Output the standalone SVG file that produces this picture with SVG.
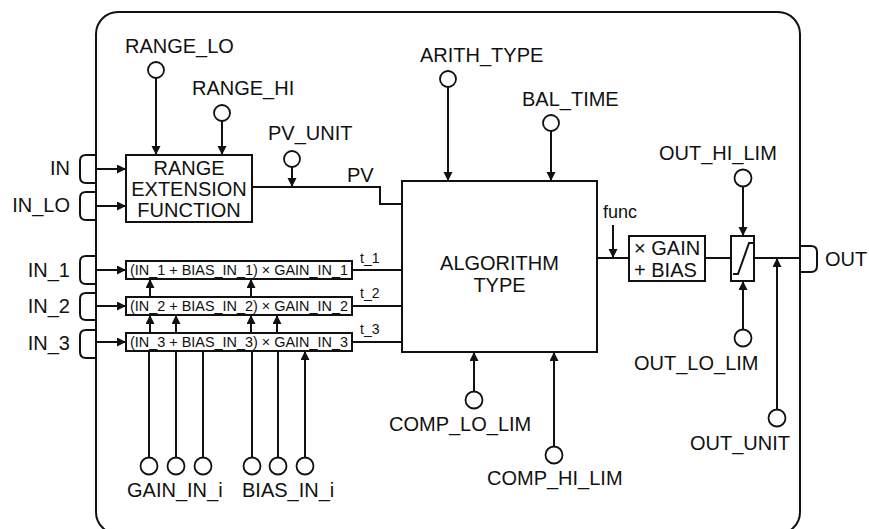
<svg xmlns="http://www.w3.org/2000/svg" width="869" height="529" viewBox="0 0 869 529">
<style>
  text { font-family: "Liberation Sans", Arial, sans-serif; font-size: 20px; fill: #111; }
  .sm { font-size: 14px; }
  .fn { font-size: 18px; }
  .row { font-size: 14px; }
  .mid { text-anchor: middle; }
  .end { text-anchor: end; }
  .box { fill: #fff; stroke: #111; stroke-width: 2; }
  .ln { fill: none; stroke: #111; stroke-width: 2; }
  .arr { fill: none; stroke: #111; stroke-width: 2; marker-end: url(#ah); }
  .pin { fill: #fff; stroke: #111; stroke-width: 1.8; }
</style>
<defs>
  <marker id="ah" markerUnits="userSpaceOnUse" markerWidth="10" markerHeight="10" refX="9" refY="4.5" orient="auto">
    <path d="M0,0 L9,4.5 L0,9 z" fill="#111"/>
  </marker>
</defs>
<rect width="869" height="529" fill="#fff"/>
<g id="frame">
  <rect x="96" y="12" width="704" height="522" rx="22" ry="22" class="ln"/>
</g>

<g id="connectors">
  <line x1="96" y1="169" x2="126" y2="169" class="arr"/>
  <line x1="96" y1="206" x2="126" y2="206" class="arr"/>
  <line x1="96" y1="270" x2="126" y2="270" class="arr"/>
  <line x1="96" y1="306" x2="126" y2="306" class="arr"/>
  <line x1="96" y1="342" x2="126" y2="342" class="arr"/>
  <line x1="156" y1="78" x2="156" y2="155" class="arr"/>
  <line x1="222" y1="121" x2="222" y2="155" class="arr"/>
  <line x1="292" y1="167" x2="292" y2="187" class="arr"/>
  <polyline points="252,187 380,187 380,204 402,204" class="ln"/>
  <line x1="352" y1="270" x2="402" y2="270" class="ln"/>
  <line x1="352" y1="306" x2="402" y2="306" class="ln"/>
  <line x1="352" y1="342" x2="402" y2="342" class="ln"/>
  <line x1="150" y1="297" x2="150" y2="279" class="arr"/>
  <line x1="251" y1="297" x2="251" y2="279" class="arr"/>
  <line x1="150" y1="333" x2="150" y2="315" class="arr"/>
  <line x1="176" y1="333" x2="176" y2="315" class="arr"/>
  <line x1="251" y1="333" x2="251" y2="315" class="arr"/>
  <line x1="277" y1="333" x2="277" y2="315" class="arr"/>
  <line x1="149" y1="457" x2="149" y2="351" class="ln"/>
  <line x1="176" y1="457" x2="176" y2="351" class="ln"/>
  <line x1="203" y1="457" x2="203" y2="351" class="ln"/>
  <line x1="252" y1="457" x2="252" y2="351" class="ln"/>
  <line x1="278" y1="457" x2="278" y2="351" class="ln"/>
  <line x1="305" y1="457" x2="305" y2="351" class="arr"/>
  <line x1="448" y1="87" x2="448" y2="181" class="arr"/>
  <line x1="551" y1="131" x2="551" y2="181" class="arr"/>
  <line x1="474" y1="391" x2="474" y2="352" class="arr"/>
  <line x1="554" y1="446" x2="554" y2="352" class="arr"/>
  <line x1="597" y1="258" x2="629" y2="258" class="ln"/>
  <line x1="613" y1="225" x2="613" y2="258" class="arr"/>
  <line x1="705" y1="258" x2="731" y2="258" class="ln"/>
  <line x1="743" y1="187" x2="743" y2="236" class="arr"/>
  <line x1="743" y1="329" x2="743" y2="281" class="arr"/>
  <line x1="754" y1="258" x2="800" y2="258" class="ln"/>
  <line x1="777" y1="409" x2="777" y2="258" class="arr"/>
  <path d="M96,155 H86 Q80,155 80,161 V177 Q80,183 86,183 H96" class="ln"/>
  <path d="M96,192 H86 Q80,192 80,198 V214 Q80,220 86,220 H96" class="ln"/>
  <path d="M96,256 H86 Q80,256 80,262 V278 Q80,284 86,284 H96" class="ln"/>
  <path d="M96,293 H86 Q80,293 80,299 V314 Q80,320 86,320 H96" class="ln"/>
  <path d="M96,330 H86 Q80,330 80,336 V352 Q80,358 86,358 H96" class="ln"/>
  <path d="M800,246 H811 Q817,246 817,252 V266 Q817,272 811,272 H800" class="ln"/>
</g>

<g id="IN"><text x="70" y="175" class="end">IN</text></g>
<g id="IN_LO"><text x="70" y="212" class="end">IN_LO</text></g>
<g id="IN_1"><text x="70" y="277" class="end">IN_1</text></g>
<g id="IN_2"><text x="70" y="313" class="end">IN_2</text></g>
<g id="IN_3"><text x="70" y="350" class="end">IN_3</text></g>

<g id="range-ext">
  <rect x="126" y="155" width="126" height="67" class="box"/>
  <text x="189" y="175" class="mid">RANGE</text>
  <text x="189" y="196" class="mid">EXTENSION</text>
  <text x="189" y="217" class="mid">FUNCTION</text>
</g>

<g id="RANGE_LO">
  <circle cx="156" cy="70" r="8" class="pin"/>
  <text x="125" y="53">RANGE_LO</text>
</g>
<g id="RANGE_HI">
  <circle cx="222" cy="113" r="8" class="pin"/>
  <text x="192" y="95">RANGE_HI</text>
</g>
<g id="PV_UNIT">
  <circle cx="292" cy="159" r="8" class="pin"/>
  <text x="268" y="140">PV_UNIT</text>
</g>
<g id="PV"><text x="347" y="182">PV</text></g>

<g id="row1">
  <rect x="126" y="261" width="226" height="18" class="box"/>
  <text x="130" y="274.5" class="row" textLength="218" lengthAdjust="spacingAndGlyphs">(IN_1 + BIAS_IN_1) × GAIN_IN_1</text>
</g>
<g id="row2">
  <rect x="126" y="297" width="226" height="18" class="box"/>
  <text x="130" y="310.5" class="row" textLength="218" lengthAdjust="spacingAndGlyphs">(IN_2 + BIAS_IN_2) × GAIN_IN_2</text>
</g>
<g id="row3">
  <rect x="126" y="333" width="226" height="18" class="box"/>
  <text x="130" y="346.5" class="row" textLength="218" lengthAdjust="spacingAndGlyphs">(IN_3 + BIAS_IN_3) × GAIN_IN_3</text>
</g>

<g id="t_labels">
  <text x="360" y="263" class="sm">t_1</text>
  <text x="360" y="298" class="sm">t_2</text>
  <text x="360" y="334" class="sm">t_3</text>
</g>

<g id="GAIN_IN_i">
  <circle cx="149" cy="466" r="8.5" class="pin"/>
  <circle cx="176" cy="466" r="8.5" class="pin"/>
  <circle cx="203" cy="466" r="8.5" class="pin"/>
  <text x="127" y="497">GAIN_IN_i</text>
</g>
<g id="BIAS_IN_i">
  <circle cx="252" cy="466" r="8.5" class="pin"/>
  <circle cx="278" cy="466" r="8.5" class="pin"/>
  <circle cx="305" cy="466" r="8.5" class="pin"/>
  <text x="242" y="497">BIAS_IN_i</text>
</g>

<g id="algorithm">
  <rect x="402" y="181" width="195" height="171" class="box"/>
  <text x="499.5" y="270" class="mid">ALGORITHM</text>
  <text x="499.5" y="292" class="mid">TYPE</text>
</g>
<g id="ARITH_TYPE">
  <circle cx="448" cy="79" r="8" class="pin"/>
  <text x="420" y="62">ARITH_TYPE</text>
</g>
<g id="BAL_TIME">
  <circle cx="551" cy="123" r="8" class="pin"/>
  <text x="522" y="106">BAL_TIME</text>
</g>
<g id="COMP_LO_LIM">
  <circle cx="474" cy="400" r="8.5" class="pin"/>
  <text x="389" y="431">COMP_LO_LIM</text>
</g>
<g id="COMP_HI_LIM">
  <circle cx="554" cy="455" r="8.5" class="pin"/>
  <text x="487" y="485">COMP_HI_LIM</text>
</g>
<g id="func"><text x="603" y="218" class="fn">func</text></g>

<g id="gain-bias">
  <rect x="629" y="236" width="76" height="45" class="box"/>
  <text x="634" y="255">× GAIN</text>
  <text x="634" y="277">+ BIAS</text>
</g>
<g id="limiter">
  <rect x="731" y="236" width="23" height="45" class="box"/>
  <polyline points="733,274 738,274 749,243 753,243" class="ln"/>
</g>
<g id="OUT_HI_LIM">
  <circle cx="743" cy="178" r="8.5" class="pin"/>
  <text x="659" y="160">OUT_HI_LIM</text>
</g>
<g id="OUT_LO_LIM">
  <circle cx="743" cy="338" r="8.5" class="pin"/>
  <text x="634" y="370">OUT_LO_LIM</text>
</g>
<g id="OUT_UNIT">
  <circle cx="777" cy="418" r="8.5" class="pin"/>
  <text x="690" y="450">OUT_UNIT</text>
</g>
<g id="OUT"><text x="825" y="266">OUT</text></g>
</svg>
